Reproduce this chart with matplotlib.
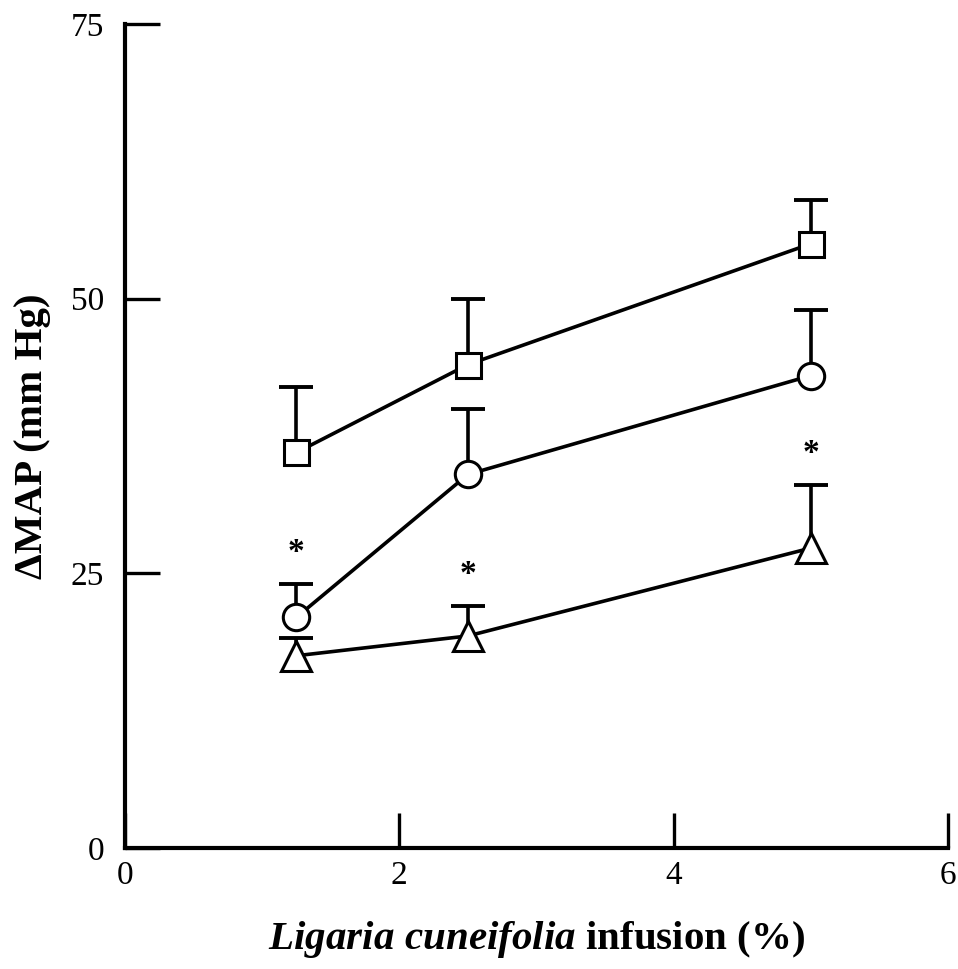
import numpy as np
import matplotlib
matplotlib.use("Agg")
import matplotlib.pyplot as plt

# infusion concentrations (%)
conc = [1.25, 2.5, 5.0]

# mean change in MAP (mm Hg) and top of the SEM bar, per group
square_mean = [36, 44, 55]
square_top = [42, 50, 59]
circle_mean = [21, 34, 43]
circle_top = [24, 40, 49]
triangle_mean = [17.5, 19.3, 27.3]
triangle_top = [19.1, 22, 33]

# significance marks: (group, index of concentration)
stars = [("circle", 0), ("triangle", 1), ("triangle", 2)]

xticks = [0, 2, 4, 6]
yticks = [0, 25, 50, 75]

plt.rcParams["font.family"] = ["Liberation Serif", "DejaVu Serif"]
plt.rcParams["mathtext.fontset"] = "custom"
plt.rcParams["mathtext.rm"] = "Liberation Serif:bold"
plt.rcParams["mathtext.it"] = "Liberation Serif:italic:bold"

fig = plt.figure(figsize=(9.58, 9.69), dpi=100)
ax = fig.add_axes([0.1305, 0.1249, 0.8591, 0.8503])

groups = {
    "square": (square_mean, square_top, "s", 18),
    "circle": (circle_mean, circle_top, "o", 19),
    "triangle": (triangle_mean, triangle_top, "^", 21),
}

for name, (mean, top, mk, ms) in groups.items():
    mean = np.array(mean, dtype=float)
    err_up = np.array(top, dtype=float) - mean
    _, caps, _ = ax.errorbar(conc, mean, yerr=[np.zeros_like(mean), err_up],
                             fmt="none", ecolor="black", elinewidth=2.6,
                             capsize=12.5, capthick=2.8, zorder=2)
    caps[0].set_visible(False)  # only the upper cap
    ax.plot(conc, mean, color="black", lw=2.6, marker=mk, markersize=ms,
            markerfacecolor="white", markeredgecolor="black",
            markeredgewidth=2.2, zorder=3)

for name, i in stars:
    top = groups[name][1][i]
    ax.text(conc[i], top + 2.15, "*", ha="center", va="baseline",
            fontsize=24, fontweight="bold")

ax.set_xlim(0, 6)
ax.set_ylim(0, 75)
ax.set_xticks(xticks)
ax.set_yticks(yticks)
ax.spines["top"].set_visible(False)
ax.spines["right"].set_visible(False)
for s in ["left", "bottom"]:
    ax.spines[s].set_linewidth(3)
ax.tick_params(direction="in", length=25, width=2.4, labelsize=24)
ax.tick_params(axis="x", pad=9)
ax.tick_params(axis="y", pad=15)

ax.set_ylabel("ΔMAP (mm Hg)", fontsize=29.5, fontweight="bold", labelpad=14)
ax.set_xlabel(r"$\mathit{Ligaria\ cuneifolia}$ infusion (%)", fontsize=29.5,
              fontweight="bold", labelpad=20)

fig.savefig("out.png", dpi=100)
